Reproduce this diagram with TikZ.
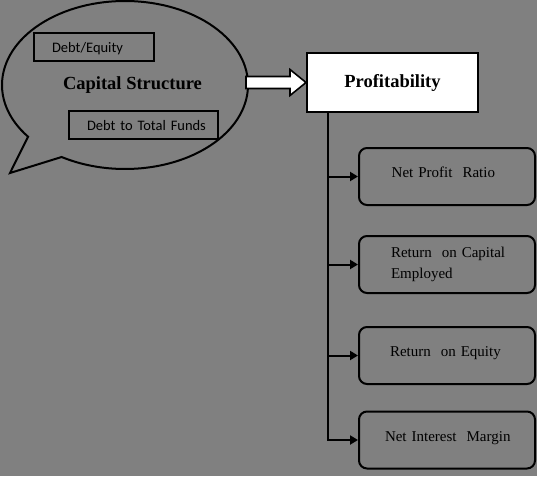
\documentclass[tikz,border=0pt]{standalone}
\usepackage{fontspec}
\setmainfont{Liberation Serif}
\newfontfamily\calibrifont{Carlito}
\usetikzlibrary{arrows.meta,calc}
\definecolor{bg}{RGB}{128,128,128}
\begin{document}
\begin{tikzpicture}[x=1pt,y=-1pt,
  line width=2pt,
  titletext/.style={font=\fontsize{18.5}{22}\selectfont\bfseries},
  ratiobox/.style={draw, rounded corners=8pt, minimum width=176pt, minimum height=57pt,
    inner xsep=0pt, inner ysep=0pt, text width=176pt, align=left,
    font=\fontsize{15}{21}\selectfont},
  debtbox/.style={draw, minimum height=28pt, inner xsep=0pt, inner ysep=0pt, align=left,
    font=\calibrifont\fontsize{14.5}{17}\selectfont, text height=10.5pt, text depth=0pt},
  branch/.style={-{Triangle[length=8pt,width=9pt]}, line width=2pt}
]
\fill[bg] (0,0) rectangle (537,476);
\useasboundingbox (0,0) rectangle (537,476);

% callout
\draw (125,85) ++(142:123 and 84)
  arc[start angle=142, end angle=481, x radius=123, y radius=84]
  -- (10,173) -- cycle;
\node[titletext, anchor=base, inner sep=0pt] (cs) at (132.5,89.3) {Capital Structure};
\node[debtbox, minimum width=120pt, text width=120pt] (de) at (94,47) {\hspace*{18pt}Debt/Equity};
\node[debtbox, minimum width=149pt, text width=149pt] (dt) at (143.5,125) {\hspace*{18pt}Debt to Total Funds};

% profitability
\node[draw, fill=white, minimum width=171pt, minimum height=59pt, titletext] (prof) at (392.5,82.5) {Profitability};

% block arrow
\draw[fill=white, line width=1.6pt, line join=miter] (prof.west) -- ++(-16,-13) -- ++(0,7) -- ++(-44,0)
  -- ++(0,12) -- ++(44,0) -- ++(0,7) -- cycle;

% ratio boxes
\node[ratiobox, text height=10.5pt, text depth=8.1pt] (b1) at (447,176.5) {\hspace*{32.7pt}Net Profit~~Ratio};
\node[ratiobox] (b2) at (447,264.5) {\hspace*{32pt}Return~~on Capital\\\hspace*{32pt}Employed};
\node[ratiobox, text height=10.5pt, text depth=8.1pt] (b3) at (447,355.5) {\hspace*{31pt}Return~~on Equity};
\node[ratiobox, text height=10.5pt, text depth=7.1pt] (b4) at (447,440) {\hspace*{26pt}Net Interest~~Margin};

% connectors
\coordinate (trunk) at ($(prof.south west)+(22,0)$);
\draw[branch] (trunk) |- (b4.west);
\foreach \b in {b1,b2,b3} \draw[branch] (trunk |- \b.west) -- (\b.west);
\end{tikzpicture}
\end{document}
